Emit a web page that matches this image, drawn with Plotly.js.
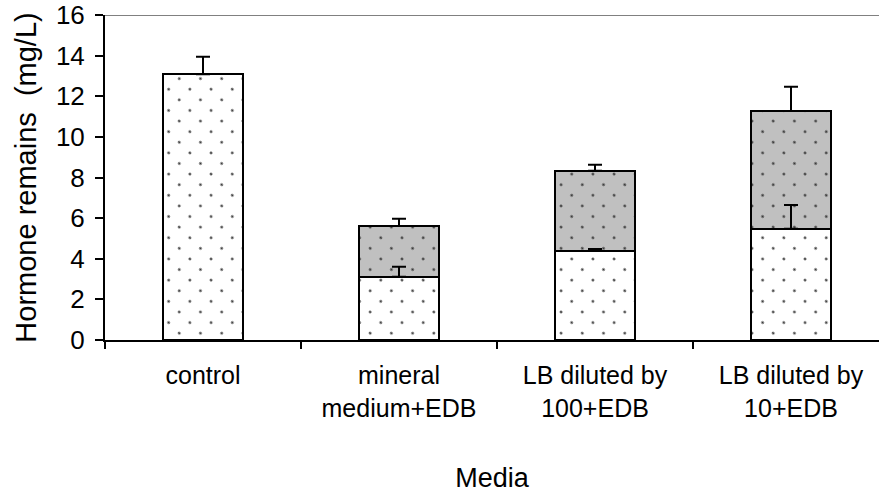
<!DOCTYPE html>
<html>
<head>
<meta charset="utf-8">
<script src="https://cdn.plot.ly/plotly-3.0.1.min.js"></script>
<style>
  html, body { margin: 0; padding: 0; background: #ffffff; }
  #chart { width: 879px; height: 496px; }
</style>
</head>
<body>
<div id="chart"></div>
<script>
// Media tested
const categories = [
  'control',
  'mineral<br>medium+EDB',
  'LB diluted by<br>100+EDB',
  'LB diluted by<br>10+EDB'
];

// Lower (white, dotted) segment of each bar, mg/L
const lowerValues = [13.08, 3.12, 4.40, 5.48];
// Upper (grey, dotted) segment stacked on top, mg/L
const upperValues = [null, 2.49, 3.93, 5.79];

// One-sided (upward) error bars for each segment
const lowerErrors = [0.87, 0.49, 0.08, 1.17];
const upperErrors = [null, 0.36, 0.30, 1.20];

const yTickValues = [0, 2, 4, 6, 8, 10, 12, 14, 16];

// Stack tops, where the error bars start
const lowerTops = lowerValues.slice();
const upperTops = lowerValues.map((v, i) => upperValues[i] == null ? null : v + upperValues[i]);

const barLine = { color: '#000000', width: 2 };
const dotPattern = (bg) => ({
  shape: '.',
  fgcolor: '#333333',
  bgcolor: bg,
  size: 15,
  solidity: 0.022,
  fillmode: 'replace'
});

const errStyle = (vals) => ({
  type: 'data',
  symmetric: false,
  array: vals,
  arrayminus: vals.map(() => 0),
  color: '#000000',
  thickness: 2,
  width: 7,
  visible: true
});

const traces = [
  {
    type: 'bar',
    x: categories,
    y: lowerValues,
    marker: { color: '#ffffff', line: barLine, pattern: dotPattern('#ffffff') },
    hoverinfo: 'y'
  },
  {
    type: 'bar',
    x: categories,
    y: upperValues,
    marker: { color: '#c0c0c0', line: barLine, pattern: dotPattern('#c0c0c0') },
    hoverinfo: 'y'
  },
  {
    type: 'scatter',
    mode: 'markers',
    x: categories,
    y: lowerTops,
    marker: { size: 1, opacity: 0 },
    error_y: errStyle(lowerErrors),
    hoverinfo: 'skip'
  },
  {
    type: 'scatter',
    mode: 'markers',
    x: categories,
    y: upperTops,
    marker: { size: 1, opacity: 0 },
    error_y: errStyle(upperErrors),
    hoverinfo: 'skip'
  }
];

const font = 'Liberation Sans, Arial, Helvetica, sans-serif';

const layout = {
  width: 879,
  height: 496,
  margin: { l: 105, r: 0, t: 15, b: 156, pad: 0 },
  paper_bgcolor: '#ffffff',
  plot_bgcolor: '#ffffff',
  showlegend: false,
  barmode: 'stack',
  bargap: 0.59,
  font: { family: font, color: '#000000' },
  xaxis: {
    type: 'category',
    range: [-0.5, 3.449],
    showline: true,
    linecolor: '#000000',
    linewidth: 2,
    ticks: 'outside',
    tickson: 'boundaries',
    ticklen: 7,
    tickwidth: 2,
    tickcolor: '#000000',
    ticklabelstandoff: 12,
    tickfont: { family: font, size: 25, color: '#000000' },
    showgrid: false,
    zeroline: false,
    fixedrange: true,
    title: { text: 'Media', font: { family: font, size: 27, color: '#000000' }, standoff: 48 }
  },
  yaxis: {
    range: [0, 16],
    tickvals: yTickValues,
    ticktext: yTickValues.map(String),
    showline: true,
    linecolor: '#000000',
    linewidth: 2,
    ticks: 'outside',
    ticklen: 8,
    tickwidth: 2,
    tickcolor: '#000000',
    ticklabelstandoff: 5,
    tickfont: { family: font, size: 26, color: '#000000' },
    showgrid: false,
    zeroline: false,
    fixedrange: true,
    title: { text: 'Hormone remains  (mg/L)', font: { family: font, size: 29, color: '#000000' }, standoff: 11 }
  },
  shapes: [
    {
      type: 'line', xref: 'paper', yref: 'y',
      x0: 0, x1: 1, y0: 16, y1: 16,
      line: { color: '#808080', width: 2 }
    }
  ]
};

Plotly.newPlot('chart', traces, layout, { displayModeBar: false, staticPlot: true }).then((gd) => {
  // Turn the square dot grid into a staggered (diagonal) one
  gd.querySelectorAll('pattern').forEach((p) => {
    p.setAttribute('patternTransform', 'rotate(45)');
  });
});
</script>
</body>
</html>
